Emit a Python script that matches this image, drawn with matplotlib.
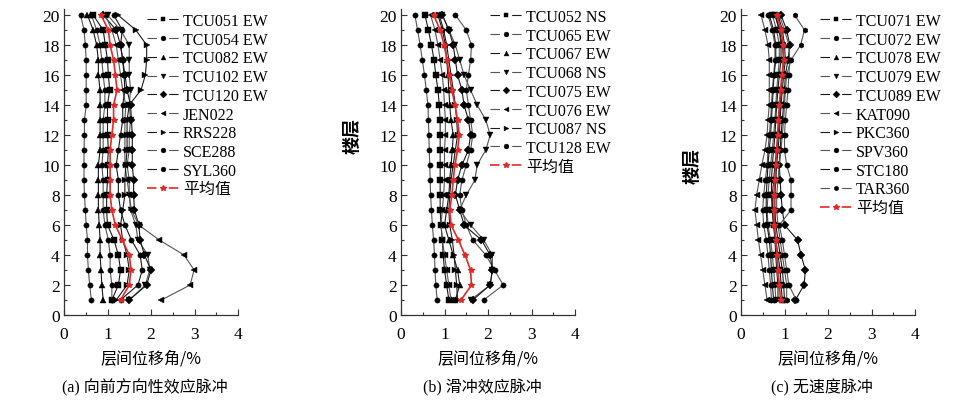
import matplotlib.pyplot as plt
from matplotlib.lines import Line2D

# 字体：西文用衬线体，中文回退到 Noto Sans CJK SC
plt.rcParams['font.family'] = ['Liberation Serif', 'Noto Sans CJK SC']
plt.rcParams['axes.unicode_minus'] = False

floors = list(range(1, 21))

# (a) 向前方向性效应脉冲
names_a = ['TCU051 EW', 'TCU054 EW', 'TCU082 EW', 'TCU102 EW', 'TCU120 EW',
           'JEN022', 'RRS228', 'SCE288', 'SYL360']
tcu051_a = [1.10, 1.25, 1.30, 1.25, 1.15, 1.00, 0.98, 0.98, 1.00, 1.00, 1.02, 1.00, 1.00, 1.00, 1.05, 1.02, 1.00, 0.95, 0.90, 0.67]
tcu054_a = [0.63, 0.59, 0.56, 0.54, 0.54, 0.51, 0.49, 0.47, 0.46, 0.46, 0.46, 0.47, 0.47, 0.51, 0.51, 0.51, 0.51, 0.49, 0.46, 0.38]
tcu082_a = [0.90, 0.87, 0.85, 0.83, 0.83, 0.81, 0.79, 0.79, 0.79, 0.79, 0.83, 0.83, 0.83, 0.83, 0.83, 0.79, 0.79, 0.75, 0.67, 0.54]
tcu102_a = [1.50, 1.87, 1.97, 1.93, 1.70, 1.65, 1.53, 1.50, 1.50, 1.45, 1.50, 1.50, 1.53, 1.50, 1.53, 1.50, 1.50, 1.50, 1.30, 1.00]
tcu120_a = [1.50, 1.90, 2.00, 1.85, 1.75, 1.72, 1.62, 1.60, 1.60, 1.57, 1.57, 1.57, 1.55, 1.53, 1.45, 1.40, 1.35, 1.30, 1.20, 0.90]
jen022_a = [2.24, 2.90, 2.99, 2.76, 2.19, 1.72, 1.55, 1.50, 1.45, 1.40, 1.40, 1.40, 1.40, 1.42, 1.35, 1.30, 1.25, 1.20, 1.10, 0.95]
rrs228_a = [1.20, 1.45, 1.50, 1.45, 1.35, 1.30, 1.35, 1.40, 1.40, 1.42, 1.45, 1.45, 1.45, 1.50, 1.77, 1.87, 1.90, 1.90, 1.65, 1.24]
sce288_a = [1.10, 1.10, 1.06, 1.06, 1.02, 0.94, 0.90, 0.90, 0.90, 0.87, 0.90, 0.90, 0.90, 0.94, 0.94, 0.90, 0.87, 0.83, 0.75, 0.63]
syl360_a = [1.30, 1.70, 1.80, 1.75, 1.55, 1.40, 1.30, 1.25, 1.25, 1.20, 1.25, 1.30, 1.35, 1.35, 1.40, 1.38, 1.35, 1.30, 1.34, 1.14]
mean_a = [1.30, 1.50, 1.54, 1.50, 1.34, 1.18, 1.10, 1.06, 1.06, 1.06, 1.06, 1.10, 1.14, 1.14, 1.22, 1.18, 1.14, 1.06, 1.02, 0.85]

# (b) 滑冲效应脉冲
names_b = ['TCU052 NS', 'TCU065 EW', 'TCU067 EW', 'TCU068 NS', 'TCU075 EW',
           'TCU076 EW', 'TCU087 NS', 'TCU128 EW']
tcu052_b = [1.10, 1.05, 1.00, 0.97, 0.95, 0.92, 0.90, 0.90, 0.90, 0.90, 0.90, 0.90, 0.90, 0.88, 0.85, 0.80, 0.76, 0.70, 0.63, 0.55]
tcu065_b = [1.90, 2.35, 2.15, 1.95, 1.65, 1.50, 1.40, 1.35, 1.40, 1.50, 1.60, 1.65, 1.60, 1.55, 1.50, 1.55, 1.60, 1.62, 1.50, 1.25]
tcu067_b = [1.25, 1.35, 1.30, 1.20, 1.10, 1.00, 1.05, 1.10, 1.12, 1.15, 1.18, 1.20, 1.15, 1.12, 1.10, 1.08, 1.05, 1.02, 0.95, 0.85]
tcu068_b = [1.60, 2.05, 2.10, 2.10, 1.90, 1.60, 1.35, 1.50, 1.70, 1.75, 1.95, 2.05, 1.95, 1.75, 1.60, 1.45, 1.35, 1.25, 1.10, 0.95]
tcu075_b = [1.65, 2.05, 2.10, 2.05, 1.85, 1.45, 1.35, 1.25, 1.30, 1.40, 1.55, 1.60, 1.55, 1.45, 1.40, 1.30, 1.25, 1.20, 1.10, 0.95]
tcu076_b = [1.15, 1.10, 1.05, 1.00, 0.95, 0.92, 0.95, 0.98, 1.00, 1.00, 1.00, 1.02, 1.02, 1.00, 0.98, 0.95, 0.90, 0.85, 0.78, 0.68]
tcu087_b = [1.30, 1.28, 1.25, 1.22, 1.18, 1.12, 1.10, 1.12, 1.15, 1.20, 1.25, 1.30, 1.28, 1.25, 1.20, 1.15, 1.10, 1.05, 0.98, 0.88]
tcu128_b = [0.83, 0.80, 0.78, 0.77, 0.75, 0.72, 0.70, 0.68, 0.67, 0.66, 0.65, 0.64, 0.63, 0.62, 0.58, 0.54, 0.49, 0.44, 0.38, 0.32]
mean_b = [1.38, 1.62, 1.60, 1.47, 1.32, 1.15, 1.12, 1.17, 1.20, 1.24, 1.30, 1.34, 1.30, 1.24, 1.17, 1.11, 1.06, 0.99, 0.90, 0.75]

# (c) 无速度脉冲
names_c = ['TCU071 EW', 'TCU072 EW', 'TCU078 EW', 'TCU079 EW', 'TCU089 EW',
           'KAT090', 'PKC360', 'SPV360', 'STC180', 'TAR360']
tcu071_c = [0.95, 0.92, 0.90, 0.85, 0.80, 0.75, 0.72, 0.72, 0.75, 0.78, 0.82, 0.85, 0.88, 0.90, 0.92, 0.95, 0.98, 0.95, 0.88, 0.78]
tcu072_c = [0.70, 0.68, 0.65, 0.62, 0.58, 0.52, 0.50, 0.52, 0.56, 0.60, 0.62, 0.65, 0.68, 0.70, 0.72, 0.75, 0.78, 0.78, 0.72, 0.62]
tcu078_c = [1.00, 0.98, 0.95, 0.90, 0.85, 0.80, 0.78, 0.78, 0.80, 0.82, 0.85, 0.88, 0.90, 0.92, 0.95, 0.98, 1.02, 1.00, 0.95, 0.85]
tcu079_c = [0.80, 0.78, 0.75, 0.72, 0.68, 0.62, 0.60, 0.62, 0.65, 0.68, 0.72, 0.75, 0.78, 0.80, 0.82, 0.85, 0.88, 0.88, 0.82, 0.72]
tcu089_c = [1.25, 1.45, 1.48, 1.38, 1.30, 1.00, 0.95, 0.92, 0.90, 0.88, 0.90, 0.92, 0.95, 0.98, 1.00, 1.02, 1.08, 1.12, 1.05, 0.92]
kat090_c = [0.60, 0.55, 0.50, 0.45, 0.40, 0.36, 0.32, 0.36, 0.42, 0.48, 0.55, 0.60, 0.62, 0.65, 0.65, 0.65, 0.65, 0.62, 0.55, 0.46]
pkc360_c = [0.85, 0.85, 0.82, 0.80, 0.78, 0.75, 0.72, 0.70, 0.70, 0.72, 0.75, 0.78, 0.80, 0.82, 0.85, 0.88, 0.92, 0.92, 0.88, 0.80]
spv360_c = [1.27, 1.10, 1.05, 1.00, 0.95, 0.88, 1.15, 1.15, 1.15, 1.05, 1.00, 1.00, 1.02, 1.05, 1.08, 1.10, 1.12, 1.10, 1.00, 0.88]
stc180_c = [0.75, 0.72, 0.70, 0.68, 0.65, 0.60, 0.58, 0.58, 0.60, 0.62, 0.65, 0.68, 0.70, 0.72, 0.74, 0.76, 0.80, 0.80, 0.75, 0.65]
tar360_c = [1.05, 1.05, 1.00, 0.95, 0.90, 0.85, 0.82, 0.82, 0.85, 0.88, 0.92, 0.95, 0.98, 1.00, 1.02, 1.05, 1.15, 1.37, 1.46, 1.23]
mean_c = [0.91, 0.88, 0.85, 0.83, 0.80, 0.77, 0.76, 0.76, 0.78, 0.80, 0.82, 0.84, 0.86, 0.88, 0.91, 0.94, 0.98, 0.97, 0.92, 0.82]

panels = [
    (names_a, [tcu051_a, tcu054_a, tcu082_a, tcu102_a, tcu120_a, jen022_a, rrs228_a, sce288_a, syl360_a], mean_a,
     '(a) 向前方向性效应脉冲'),
    (names_b, [tcu052_b, tcu065_b, tcu067_b, tcu068_b, tcu075_b, tcu076_b, tcu087_b, tcu128_b], mean_b,
     '(b) 滑冲效应脉冲'),
    (names_c, [tcu071_c, tcu072_c, tcu078_c, tcu079_c, tcu089_c, kat090_c, pkc360_c, spv360_c, stc180_c, tar360_c], mean_c,
     '(c) 无速度脉冲'),
]

markers = ['s', 'o', '^', 'v', 'D', '<', '>', 'o', 'o', 'h']
line_colors = ['#1a1a1a', '#555555']
red = '#e02a2a'

W, H = 968, 406
fig = plt.figure(figsize=(W / 100, H / 100), dpi=100)

# 像素布局
ax_left = [64, 401, 741]
ax_w, ax_bottom, ax_h = 174, 90, 306
leg_pos = [(147, 14), (490, 10), (820, 14)]
ylab_pos = [None, (352, 136), (692, 166)]

for i, (names, series, mean, caption) in enumerate(panels):
    ax = fig.add_axes([ax_left[i] / W, ax_bottom / H, ax_w / W, ax_h / H])
    handles = []
    for j, (nm, vals) in enumerate(zip(names, series)):
        c = line_colors[j % 2]
        ax.plot(vals, floors, color=c, lw=0.8, marker=markers[j], ms=3.8,
                mfc='black', mec='black', mew=0.3)
        handles.append(Line2D([], [], color=c, lw=0.8, dashes=(8.5, 11), marker=markers[j],
                              ms=3.5, mfc='black', mec='black', mew=0.3))
    ax.plot(mean, floors, color=red, lw=1.2, marker='*', ms=4, mfc=red, mec=red, zorder=5)
    handles.append(Line2D([], [], color=red, lw=1.2, dashes=(5.7, 7.3), marker='*', ms=4,
                          mfc=red, mec=red))

    ax.set_xlim(0, 4)
    ax.set_ylim(0, 20.4)
    ax.set_xticks([0, 1, 2, 3, 4])
    ax.set_xticks([0.5, 1.5, 2.5, 3.5], minor=True)
    ax.set_yticks(range(0, 21, 2))
    ax.set_yticks(range(1, 21, 2), minor=True)
    ax.tick_params(which='both', direction='in', labelsize=12.5, color='#333333', width=0.8)
    ax.tick_params(which='major', length=4)
    ax.tick_params(which='minor', length=2.5)
    ax.tick_params(axis='x', pad=8)
    ax.tick_params(axis='y', pad=3)
    for s in ['top', 'right']:
        ax.spines[s].set_visible(False)
    for s in ['left', 'bottom']:
        ax.spines[s].set_color('#333333')
        ax.spines[s].set_linewidth(0.9)

    lx, ly = leg_pos[i]
    fig.legend(handles, names + ['平均值'], loc='upper left',
               bbox_to_anchor=(lx / W, 1 - ly / H), frameon=False,
               prop={'family': ['Liberation Serif', 'Noto Sans CJK SC'], 'size': 11.5},
               handlelength=2.0, handletextpad=0.25, labelspacing=0.17,
               borderpad=0, borderaxespad=0)

    cx = (ax_left[i] + ax_w / 2) / W
    fig.text(cx, 1 - 359 / H, '层间位移角/%', ha='center', va='center',
             fontsize=11.5, family='Noto Sans CJK SC')
    fig.text(cx - 6 / W, 1 - 388 / H, caption, ha='center', va='center', fontsize=11.5)
    if ylab_pos[i] is not None:
        yx, yy = ylab_pos[i]
        fig.text(yx / W, 1 - yy / H, '楼层', ha='center', va='center', rotation=90,
                 fontsize=13, family='Noto Sans CJK SC', weight='bold')

plt.savefig('out.png', dpi=100)
